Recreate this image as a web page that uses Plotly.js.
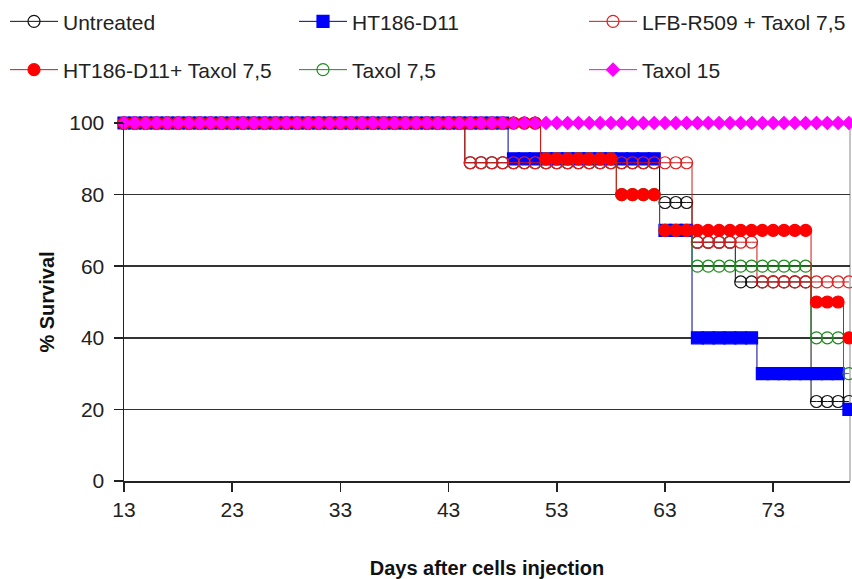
<!DOCTYPE html>
<html><head><meta charset="utf-8">
<script src="https://cdn.plot.ly/plotly-3.0.1.min.js"></script>
<style>html,body{margin:0;padding:0;background:#fff}#chart{width:852px;height:579px}</style>
</head><body><div id="chart"></div>
<script>
// Days after cells injection (one marker per day)
const days = [13,14,15,16,17,18,19,20,21,22,
              23,24,25,26,27,28,29,30,31,32,
              33,34,35,36,37,38,39,40,41,42,
              43,44,45,46,47,48,49,50,51,52,
              53,54,55,56,57,58,59,60,61,62,
              63,64,65,66,67,68,69,70,71,72,
              73,74,75,76,77,78,79,80];

// % survival per day
const untreated = [100,100,100,100,100,100,100,100,100,100,
                   100,100,100,100,100,100,100,100,100,100,
                   100,100,100,100,100,100,100,100,100,100,
                   100,100,88.9,88.9,88.9,88.9,88.9,88.9,88.9,88.9,
                   88.9,88.9,88.9,88.9,88.9,88.9,88.9,88.9,88.9,88.9,
                   77.8,77.8,77.8,66.7,66.7,66.7,66.7,55.6,55.6,55.6,
                   55.6,55.6,55.6,55.6,22.2,22.2,22.2,22.2];
const ht186 = [100,100,100,100,100,100,100,100,100,100,
               100,100,100,100,100,100,100,100,100,100,
               100,100,100,100,100,100,100,100,100,100,
               100,100,100,100,100,100,90,90,90,90,
               90,90,90,90,90,90,90,90,90,90,
               70,70,70,40,40,40,40,40,40,30,
               30,30,30,30,30,30,30,20];
const lfbTaxol = [100,100,100,100,100,100,100,100,100,100,
                  100,100,100,100,100,100,100,100,100,100,
                  100,100,100,100,100,100,100,100,100,100,
                  100,100,88.9,88.9,88.9,88.9,88.9,88.9,88.9,88.9,
                  88.9,88.9,88.9,88.9,88.9,88.9,88.9,88.9,88.9,88.9,
                  88.9,88.9,88.9,66.7,66.7,66.7,66.7,66.7,66.7,55.6,
                  55.6,55.6,55.6,55.6,55.6,55.6,55.6,55.6];
const ht186Taxol = [100,100,100,100,100,100,100,100,100,100,
                    100,100,100,100,100,100,100,100,100,100,
                    100,100,100,100,100,100,100,100,100,100,
                    100,100,100,100,100,100,100,100,100,90,
                    90,90,90,90,90,90,80,80,80,80,
                    70,70,70,70,70,70,70,70,70,70,
                    70,70,70,70,50,50,50,40];
const taxol75 = [100,100,100,100,100,100,100,100,100,100,
                 100,100,100,100,100,100,100,100,100,100,
                 100,100,100,100,100,100,100,100,100,100,
                 100,100,100,100,100,100,100,100,100,90,
                 90,90,90,90,90,90,80,80,80,80,
                 70,70,70,60,60,60,60,60,60,60,
                 60,60,60,60,40,40,40,30];
const taxol15 = [100,100,100,100,100,100,100,100,100,100,
                 100,100,100,100,100,100,100,100,100,100,
                 100,100,100,100,100,100,100,100,100,100,
                 100,100,100,100,100,100,100,100,100,100,
                 100,100,100,100,100,100,100,100,100,100,
                 100,100,100,100,100,100,100,100,100,100,
                 100,100,100,100,100,100,100,100];

const xTicks = [13,23,33,43,53,63,73];
const yTicks = [0,20,40,60,80,100];

const FONT = 'Liberation Sans, Arial, Helvetica, sans-serif';
// plot-area pixel geometry (used only for placing legends)
const PL = 124, PR = 850, PT = 123, PB = 481;
const px2x = px => (px - PL) / (PR - PL);
const px2y = py => (PB - py) / (PB - PT);

function tr(name, y, color, symbol, size, lineColor, legendId) {
  return {
    type: 'scatter', mode: 'lines+markers', x: days, y: y, name: name,
    legend: legendId, cliponaxis: false, hoverinfo: 'skip',
    line: {color: lineColor, width: 1, shape: 'hvh'},
    marker: {symbol: symbol, size: size, color: color, line: {color: color, width: 1.2}}
  };
}

const traces = [
  tr('Untreated', untreated, '#111111', 'circle-open', 12, '#111111', 'legend'),
  tr('HT186-D11', ht186, '#0000ff', 'square', 12, '#000099', 'legend2'),
  tr('LFB-R509 + Taxol 7,5', lfbTaxol, '#e02020', 'circle-open', 12, '#d01818', 'legend3'),
  tr('Taxol 7,5', taxol75, '#1f8a1f', 'circle-open', 12, '#1f8a1f', 'legend5'),
  tr('HT186-D11+ Taxol 7,5', ht186Taxol, '#ff0000', 'circle', 12, '#e01010', 'legend4'),
  tr('Taxol 15', taxol15, '#ff00ff', 'diamond', 10, '#ff00ff', 'legend6')
];

function leg(pxX, pxY) {
  return {x: px2x(pxX), y: px2y(pxY), xanchor: 'left', yanchor: 'middle',
          xref: 'paper', yref: 'paper', itemwidth: 48, bgcolor: 'rgba(0,0,0,0)',
          borderwidth: 0, font: {family: FONT, size: 21, color: '#222'},
          itemclick: false, itemdoubleclick: false};
}

const layout = {
  width: 852, height: 579,
  margin: {l: PL, r: 852 - PR, t: PT, b: 579 - PB, autoexpand: false},
  paper_bgcolor: '#ffffff', plot_bgcolor: '#ffffff',
  font: {family: FONT, size: 21, color: '#222'},
  showlegend: true,
  xaxis: {
    range: [13, 80.1], tickvals: xTicks, ticktext: xTicks.map(String),
    ticks: 'outside', ticklen: 9, tickwidth: 1.5, tickcolor: '#222',
    showline: true, linecolor: '#222', linewidth: 2,
    showgrid: false, zeroline: false, automargin: false,
    tickfont: {family: FONT, size: 21, color: '#222'},
    title: {text: '<b>Days after cells injection</b>', standoff: 41,
            font: {family: FONT, size: 20, color: '#111'}}
  },
  yaxis: {
    range: [0, 100], tickvals: yTicks, ticktext: yTicks.map(String),
    ticks: 'outside', ticklen: 9, tickwidth: 1.5, tickcolor: '#222',
    ticklabelstandoff: 5,
    showline: true, linecolor: '#222', linewidth: 1.5,
    showgrid: true, gridcolor: '#333', gridwidth: 1.6, zeroline: false, automargin: false,
    tickfont: {family: FONT, size: 21, color: '#222'},
    title: {text: '<b>% Survival</b>', standoff: 9,
            font: {family: FONT, size: 20, color: '#111'}}
  },
  legend: leg(5, 21.7),
  legend2: leg(294, 21.7),
  legend3: leg(584, 21.7),
  legend4: leg(5, 70),
  legend5: leg(294, 70),
  legend6: leg(584, 70),
  shapes: [{type: 'line', xref: 'paper', yref: 'paper', x0: 1, x1: 1, y0: 0, y1: 1,
            line: {color: '#b0b0b0', width: 1.5}, layer: 'below'}]
};

Plotly.newPlot('chart', traces, layout, {staticPlot: true, displayModeBar: false});
</script>
</body></html>
